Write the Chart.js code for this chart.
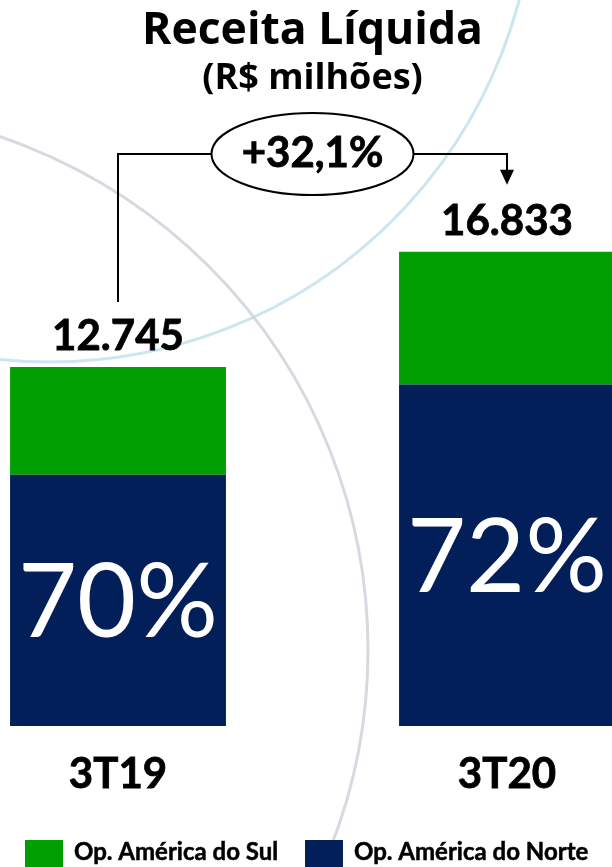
<!DOCTYPE html>
<html lang="pt-BR">
<head>
<meta charset="utf-8">
<title>Receita Líquida</title>
<script src="https://cdn.jsdelivr.net/npm/chart.js@4.4.1/dist/chart.umd.min.js"></script>
<style>
  html, body { margin: 0; padding: 0; background: #fff; overflow: hidden; }
  #wrap { position: relative; width: 612px; height: 867px; }
</style>
</head>
<body>
<div id="wrap"><canvas id="chart"></canvas></div>
<script>
// ---------- Data (R$ milhões) ----------
const periods = ['3T19', '3T20'];
const americaNorte = [8922, 12120];
const americaSul = [3823, 4713];
const nameSul = 'Op. América do Sul';
const nameNorte = 'Op. América do Norte';

const GREEN = '#009e00';
const NAVY = '#031f5a';
const FONT = 'Lato, "Open Sans", sans-serif';
const TITLE_FONT = '"Open Sans", Lato, sans-serif';

const totals = periods.map((_, i) => americaNorte[i] + americaSul[i]);

function fmtThousands(v) {
  return String(Math.round(v)).replace(/\B(?=(\d{3})+(?!\d))/g, '.');
}
function fmtPct(v, digits) {
  return v.toFixed(digits).replace('.', ',') + '%';
}

// ---------- Drawing helpers ----------
// heavy = extra outline so the bold labels read a bit blacker
function text(ctx, str, x, y, font, color, opts = {}) {
  ctx.font = font;
  ctx.fillStyle = color;
  ctx.textAlign = opts.align || 'center';
  ctx.textBaseline = opts.base || 'alphabetic';
  ctx.fillText(str, x, y);
  if (opts.heavy) {
    ctx.strokeStyle = color;
    ctx.lineWidth = opts.heavy;
    ctx.strokeText(str, x, y);
  }
}

const decor = {
  id: 'decor',
  beforeDraw(chart) {
    // faint background arcs
    const { ctx } = chart;
    ctx.save();
    ctx.lineWidth = 3;
    ctx.strokeStyle = 'rgba(190, 224, 236, 0.8)';
    ctx.beginPath();
    ctx.arc(50, -123, 485, 0, Math.PI * 2);
    ctx.stroke();
    ctx.strokeStyle = 'rgba(204, 209, 216, 0.8)';
    ctx.beginPath();
    ctx.arc(-174, 650, 542, 0, Math.PI * 2);
    ctx.stroke();
    ctx.restore();
  },
  afterDraw(chart) {
    const { ctx } = chart;
    const yScale = chart.scales.y;
    const bars = chart.getDatasetMeta(0).data;
    const xs = bars.map(b => b.x);
    const tops = totals.map(t => yScale.getPixelForValue(t));
    const midX = (xs[0] + xs[1]) / 2;

    ctx.save();

    // title
    text(ctx, 'Receita Líquida', midX, 44, `bold 44.5px ${TITLE_FONT}`, '#000');
    text(ctx, '(R$ milhões)', midX, 89, `bold 36px ${TITLE_FONT}`, '#000');

    // totals above the bars
    totals.forEach((t, i) => {
      text(ctx, fmtThousands(t), xs[i], tops[i] - 17, `bold 42px ${FONT}`, '#000', { heavy: 0.8 });
    });

    // growth connector
    const lineY = 154;
    const rx = 101, ry = 41;
    ctx.strokeStyle = '#000';
    ctx.lineWidth = 2;
    ctx.beginPath();
    ctx.moveTo(xs[0], tops[0] - 65);
    ctx.lineTo(xs[0], lineY);
    ctx.lineTo(midX - rx, lineY);
    ctx.moveTo(midX + rx, lineY);
    ctx.lineTo(xs[1], lineY);
    ctx.lineTo(xs[1], tops[1] - 80);
    ctx.stroke();
    ctx.fillStyle = '#000';
    ctx.beginPath();
    ctx.moveTo(xs[1] - 7, tops[1] - 82);
    ctx.lineTo(xs[1] + 7, tops[1] - 82);
    ctx.lineTo(xs[1], tops[1] - 67);
    ctx.closePath();
    ctx.fill();

    ctx.beginPath();
    ctx.ellipse(midX, lineY, rx, ry, 0, 0, Math.PI * 2);
    ctx.fillStyle = '#fff';
    ctx.fill();
    ctx.lineWidth = 2;
    ctx.stroke();
    const growth = (totals[1] / totals[0] - 1) * 100;
    text(ctx, '+' + fmtPct(growth, 1), midX, 167, `bold 42px ${FONT}`, '#000', { heavy: 0.8 });

    // share of América do Norte inside the navy segment
    bars.forEach((b, i) => {
      const share = americaNorte[i] / totals[i] * 100;
      const cy = (b.y + b.base) / 2;
      text(ctx, fmtPct(share, 0), b.x, cy + 37, `102px ${FONT}`, '#fff');
    });

    // category labels
    periods.forEach((p, i) => {
      text(ctx, p, xs[i], 788, `bold 42px ${FONT}`, '#000', { heavy: 0.8 });
    });

    // legend
    const legend = [[nameSul, GREEN, 25], [nameNorte, NAVY, 305]];
    legend.forEach(([label, color, x]) => {
      ctx.fillStyle = color;
      ctx.fillRect(x, 840, 38, 27);
      text(ctx, label, x + 49, 860, `bold 24px ${FONT}`, '#000', { align: 'left', heavy: 0.5 });
    });

    ctx.restore();
  }
};

// ---------- Chart ----------
new Chart(document.getElementById('chart'), {
  type: 'bar',
  data: {
    labels: periods,
    datasets: [
      { label: nameNorte, data: americaNorte, backgroundColor: NAVY },
      { label: nameSul, data: americaSul, backgroundColor: GREEN }
    ]
  },
  options: {
    responsive: true,
    maintainAspectRatio: false,
    animation: false,
    layout: { padding: { left: 118, right: 105, top: 162.6, bottom: 141 } },
    datasets: {
      bar: { barPercentage: 1, categoryPercentage: 0.555, borderWidth: 0, clip: false }
    },
    scales: {
      x: { display: false, stacked: true, offset: false },
      y: { display: false, stacked: true, min: 0, max: 20000 }
    },
    plugins: {
      legend: { display: false },
      tooltip: { enabled: false }
    }
  },
  plugins: [decor]
});
</script>
</body>
</html>
